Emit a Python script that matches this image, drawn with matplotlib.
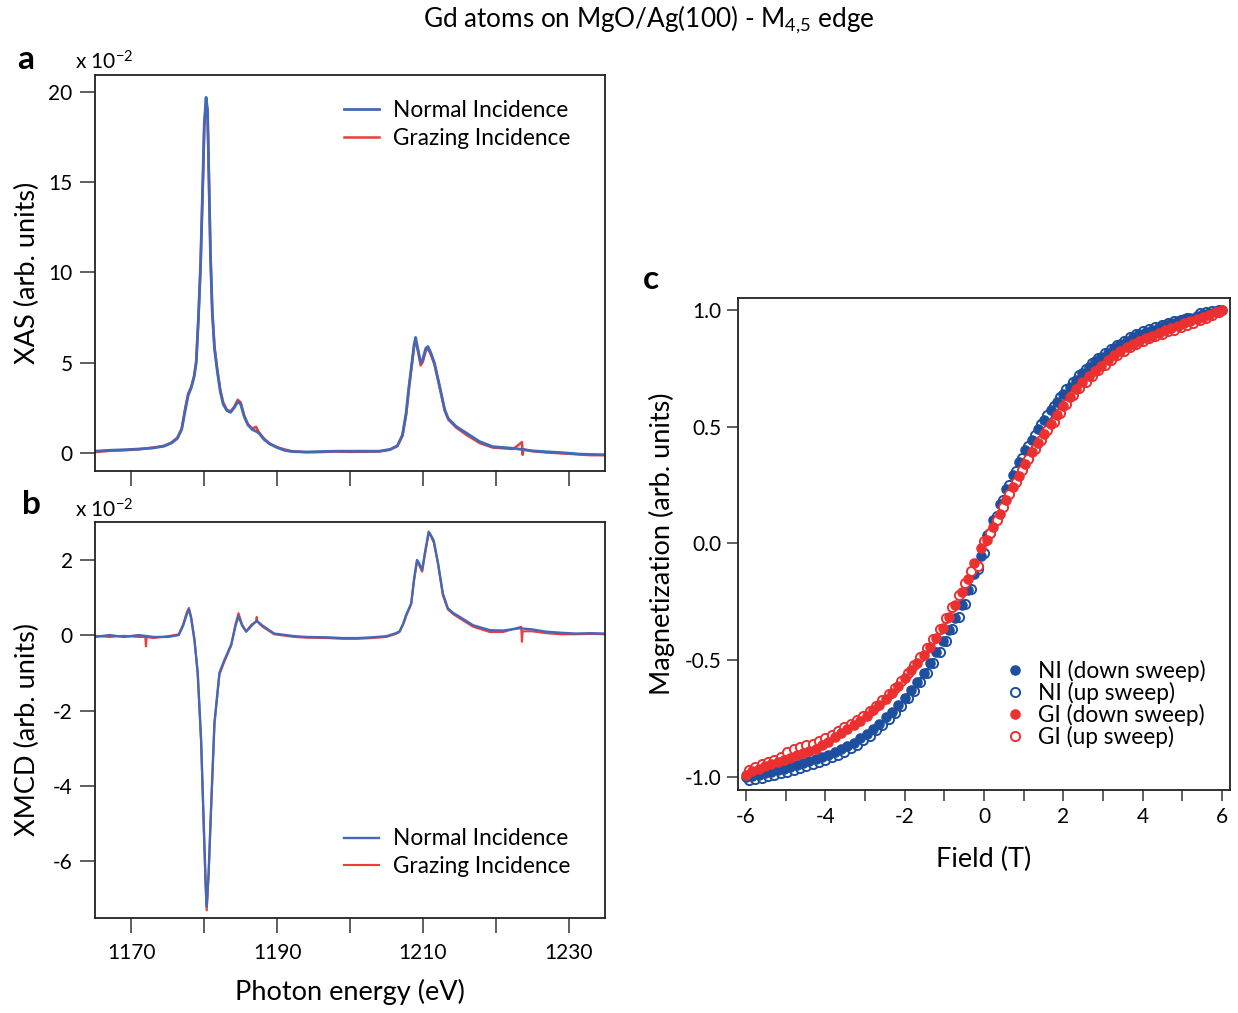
import matplotlib
matplotlib.use("Agg")
import matplotlib.pyplot as plt
from matplotlib.ticker import FixedLocator, FormatStrFormatter

plt.rcParams["font.family"] = ["Lato", "DejaVu Sans"]
plt.rcParams["mathtext.fontset"] = "custom"
plt.rcParams["mathtext.rm"] = "Lato"
plt.rcParams["axes.unicode_minus"] = False

# ---- panel a: XAS (x 10^-2) ----
xas_energy_ni = [1165.0, 1167.0, 1169.0, 1171.0, 1173.0, 1174.5, 1175.5, 1176.3, 1176.9, 1177.4,
                 1177.8, 1178.2, 1178.6, 1178.9, 1179.2, 1179.5, 1179.8, 1180.0, 1180.25, 1180.45,
                 1180.65, 1180.85, 1181.1, 1181.4, 1181.8, 1182.2, 1182.6, 1183.1, 1183.6, 1184.1,
                 1184.6, 1185.0, 1185.5, 1186.0, 1186.6, 1187.1, 1187.5, 1188.2, 1189.0, 1190.0,
                 1191.0, 1192.0, 1194.0, 1196.0, 1198.0, 1200.0, 1202.0, 1204.0, 1205.5, 1206.5,
                 1207.2, 1207.7, 1208.1, 1208.5, 1208.8, 1209.0, 1209.3, 1209.7, 1210.0, 1210.4,
                 1210.7, 1211.1, 1211.6, 1212.3, 1213.0, 1213.5, 1214.6, 1216.0, 1217.8, 1219.6,
                 1222.4, 1225.0, 1226.9, 1229.0, 1231.5, 1233.0, 1235.0]
xas_ni = [0.10, 0.15, 0.18, 0.22, 0.28, 0.38, 0.55, 0.80, 1.30, 2.40,
          3.20, 3.60, 4.20, 5.00, 7.50, 10.5, 15.0, 18.2, 19.7, 19.0,
          15.0, 11.0, 7.8, 5.8, 4.5, 3.4, 2.7, 2.35, 2.25, 2.50,
          2.85, 2.70, 2.00, 1.55, 1.30, 1.20, 1.10, 0.75, 0.50, 0.30,
          0.15, 0.08, 0.05, 0.08, 0.10, 0.10, 0.10, 0.10, 0.20, 0.40,
          1.00, 2.20, 3.70, 5.00, 6.00, 6.40, 5.80, 5.00, 5.20, 5.80,
          5.90, 5.55, 4.97, 3.70, 2.40, 1.90, 1.46, 1.10, 0.63, 0.35,
          0.26, 0.12, 0.07, 0.02, -0.06, -0.08, -0.10]

xas_energy_gi = [1165.0, 1167.0, 1169.0, 1171.0, 1173.0, 1174.5, 1175.5, 1176.3, 1176.9, 1177.4,
                 1177.8, 1178.2, 1178.6, 1178.9, 1179.2, 1179.5, 1179.8, 1180.0, 1180.25, 1180.45,
                 1180.65, 1180.85, 1181.1, 1181.4, 1181.8, 1182.2, 1182.6, 1183.1, 1183.6, 1184.1,
                 1184.6, 1185.0, 1185.5, 1186.0, 1186.6, 1187.1, 1187.5, 1188.2, 1189.0, 1190.0,
                 1191.0, 1192.0, 1194.0, 1196.0, 1198.0, 1200.0, 1202.0, 1204.0, 1205.5, 1206.5,
                 1207.2, 1207.7, 1208.1, 1208.5, 1208.8, 1209.0, 1209.3, 1209.7, 1210.0, 1210.4,
                 1210.7, 1211.1, 1211.6, 1212.3, 1213.0, 1213.5, 1214.6, 1216.0, 1217.8, 1219.6,
                 1222.4, 1223.6, 1223.7, 1223.8, 1225.0, 1226.9, 1229.0, 1231.5, 1233.0, 1235.0]
xas_gi = [0.05, 0.12, 0.15, 0.20, 0.30, 0.40, 0.58, 0.85, 1.35, 2.50,
          3.30, 3.65, 4.25, 5.10, 7.40, 10.4, 14.8, 18.0, 19.6, 18.9,
          15.1, 11.1, 7.9, 5.9, 4.6, 3.5, 2.8, 2.40, 2.30, 2.55,
          2.95, 2.80, 2.05, 1.60, 1.35, 1.45, 1.15, 0.80, 0.52, 0.32,
          0.20, 0.10, 0.05, 0.05, 0.08, 0.06, 0.07, 0.08, 0.18, 0.38,
          0.95, 2.10, 3.60, 4.90, 5.90, 6.25, 5.70, 4.85, 5.05, 5.65,
          5.80, 5.45, 4.90, 3.65, 2.35, 1.85, 1.40, 1.00, 0.55, 0.30,
          0.22, 0.60, -0.10, 0.20, 0.10, 0.03, -0.02, -0.08, -0.12, -0.12]

# ---- panel b: XMCD (x 10^-2) ----
xmcd_energy_ni = [1165.0, 1167.0, 1169.0, 1171.0, 1173.0, 1175.0, 1176.5, 1177.1, 1177.6, 1177.9,
                  1178.2, 1178.65, 1179.1, 1179.57, 1179.93, 1180.2, 1180.34, 1180.6, 1180.94, 1181.4,
                  1182.08, 1182.77, 1183.7, 1184.3, 1184.7, 1185.2, 1185.75, 1186.5, 1187.2, 1188.0,
                  1189.6, 1192.4, 1194.0, 1196.9, 1199.0, 1201.0, 1203.0, 1205.0, 1206.3, 1206.8,
                  1207.3, 1207.7, 1208.4, 1208.8, 1209.2, 1209.5, 1209.9, 1210.3, 1210.8, 1211.1,
                  1211.5, 1212.06, 1212.75, 1213.43, 1214.2, 1215.0, 1216.9, 1219.2, 1221.0, 1223.3,
                  1225.0, 1226.9, 1229.0, 1231.0, 1233.0, 1235.0]
xmcd_ni = [-0.05, 0.00, -0.05, 0.00, -0.05, -0.05, 0.00, 0.25, 0.55, 0.68,
           0.45, -0.13, -1.00, -2.78, -5.00, -6.60, -7.20, -6.30, -4.55, -2.33,
           -1.00, -0.66, -0.25, 0.25, 0.50, 0.25, 0.09, 0.25, 0.38, 0.25,
           0.04, -0.03, -0.05, -0.06, -0.08, -0.08, -0.06, -0.03, 0.05, 0.10,
           0.30, 0.53, 0.84, 1.50, 1.99, 1.90, 1.72, 2.20, 2.74, 2.65,
           2.50, 1.94, 1.10, 0.71, 0.58, 0.49, 0.26, 0.13, 0.12, 0.18,
           0.15, 0.09, 0.06, 0.04, 0.05, 0.04]

xmcd_energy_gi = [1165.0, 1167.0, 1169.0, 1171.0, 1171.9, 1172.0, 1172.1, 1173.0, 1175.0, 1176.5,
                  1177.1, 1177.6, 1177.9, 1178.2, 1178.65, 1179.1, 1179.57, 1179.93, 1180.2, 1180.34,
                  1180.6, 1180.94, 1181.4, 1182.08, 1182.77, 1183.7, 1184.3, 1184.7, 1185.2, 1185.75,
                  1186.5, 1187.1, 1187.2, 1187.3, 1188.0, 1189.6, 1192.4, 1194.0, 1196.9, 1199.0,
                  1201.0, 1203.0, 1205.0, 1206.3, 1206.8, 1207.3, 1207.7, 1208.4, 1208.8, 1209.2,
                  1209.5, 1209.9, 1210.3, 1210.8, 1211.1, 1211.5, 1212.06, 1212.75, 1213.43, 1214.2,
                  1215.0, 1216.9, 1219.2, 1221.0, 1223.5, 1223.6, 1223.7, 1225.0, 1226.9, 1229.0,
                  1231.0, 1233.0, 1235.0]
xmcd_gi = [-0.02, -0.05, -0.02, -0.05, -0.05, -0.30, -0.05, -0.08, -0.03, 0.02,
           0.28, 0.60, 0.72, 0.48, -0.10, -1.00, -2.85, -5.10, -6.75, -7.30,
           -6.35, -4.60, -2.35, -1.05, -0.70, -0.28, 0.30, 0.58, 0.28, 0.10,
           0.28, 0.35, 0.48, 0.35, 0.22, 0.02, -0.05, -0.07, -0.08, -0.10,
           -0.10, -0.08, -0.05, 0.03, 0.08, 0.28, 0.50, 0.82, 1.45, 1.95,
           1.85, 1.68, 2.15, 2.70, 2.62, 2.45, 1.90, 1.05, 0.68, 0.55,
           0.45, 0.22, 0.08, 0.08, 0.22, -0.18, 0.10, 0.10, 0.05, 0.02,
           0.02, 0.03, 0.02]

# ---- panel c: magnetization loops ----
field_down = [-6.00, -5.84, -5.68, -5.52, -5.36, -5.20, -5.04, -4.88, -4.72, -4.56,
              -4.40, -4.24, -4.08, -3.92, -3.76, -3.60, -3.44, -3.28, -3.12, -2.96,
              -2.80, -2.64, -2.48, -2.32, -2.16, -2.00, -1.84, -1.68, -1.52, -1.36,
              -1.20, -1.04, -0.88, -0.72, -0.56, -0.40, -0.24, -0.08,
              0.08, 0.24, 0.40, 0.56, 0.72, 0.88, 1.04, 1.20, 1.36, 1.52,
              1.68, 1.84, 2.00, 2.16, 2.32, 2.48, 2.64, 2.80, 2.96, 3.12,
              3.28, 3.44, 3.60, 3.76, 3.92, 4.08, 4.24, 4.40, 4.56, 4.72,
              4.88, 5.04, 5.20, 5.36, 5.52, 5.68, 5.84, 6.00]
field_up = [-5.92, -5.76, -5.60, -5.44, -5.28, -5.12, -4.96, -4.80, -4.64, -4.48,
            -4.32, -4.16, -4.00, -3.84, -3.68, -3.52, -3.36, -3.20, -3.04, -2.88,
            -2.72, -2.56, -2.40, -2.24, -2.08, -1.92, -1.76, -1.60, -1.44, -1.28,
            -1.12, -0.96, -0.80, -0.64, -0.48, -0.32, -0.16, 0.00,
            0.16, 0.32, 0.48, 0.64, 0.80, 0.96, 1.12, 1.28, 1.44, 1.60,
            1.76, 1.92, 2.08, 2.24, 2.40, 2.56, 2.72, 2.88, 3.04, 3.20,
            3.36, 3.52, 3.68, 3.84, 4.00, 4.16, 4.32, 4.48, 4.64, 4.80,
            4.96, 5.12, 5.28, 5.44, 5.60, 5.76, 5.92]
ni_down = [-1.000, -0.995, -0.990, -0.984, -0.978, -0.971, -0.964, -0.957, -0.949, -0.941,
           -0.933, -0.924, -0.915, -0.905, -0.894, -0.882, -0.869, -0.853, -0.835, -0.815,
           -0.795, -0.772, -0.745, -0.720, -0.690, -0.660, -0.628, -0.592, -0.553, -0.510,
           -0.465, -0.418, -0.370, -0.318, -0.262, -0.200, -0.130, -0.055,
           0.035, 0.100, 0.170, 0.235, 0.295, 0.350, 0.400, 0.445, 0.490, 0.530,
           0.570, 0.605, 0.640, 0.670, 0.700, 0.730, 0.757, 0.780, 0.798, 0.816,
           0.835, 0.853, 0.868, 0.882, 0.895, 0.906, 0.916, 0.926, 0.935, 0.944,
           0.952, 0.960, 0.967, 0.974, 0.981, 0.988, 0.994, 1.000]
ni_up = [-1.015, -1.010, -1.004, -0.998, -0.992, -0.985, -0.978, -0.970, -0.962, -0.955,
         -0.946, -0.937, -0.927, -0.916, -0.904, -0.891, -0.877, -0.861, -0.843, -0.823,
         -0.801, -0.778, -0.751, -0.724, -0.694, -0.663, -0.630, -0.594, -0.555, -0.512,
         -0.466, -0.418, -0.368, -0.316, -0.258, -0.196, -0.110, -0.040,
         0.046, 0.118, 0.185, 0.250, 0.310, 0.366, 0.418, 0.466, 0.510, 0.551,
         0.590, 0.626, 0.660, 0.691, 0.720, 0.748, 0.773, 0.795, 0.814, 0.833,
         0.851, 0.868, 0.883, 0.896, 0.908, 0.918, 0.927, 0.936, 0.944, 0.951,
         0.958, 0.964, 0.953, 0.988, 0.992, 0.995, 0.998]
gi_down = [-0.990, -0.975, -0.965, -0.955, -0.945, -0.935, -0.926, -0.917, -0.908, -0.899,
           -0.890, -0.880, -0.865, -0.850, -0.830, -0.812, -0.795, -0.778, -0.760, -0.740,
           -0.715, -0.690, -0.665, -0.640, -0.610, -0.578, -0.543, -0.510, -0.478, -0.443,
           -0.405, -0.363, -0.315, -0.262, -0.210, -0.153, -0.085, -0.020,
           0.015, 0.070, 0.128, 0.185, 0.240, 0.290, 0.342, 0.390, 0.430, 0.470,
           0.510, 0.548, 0.590, 0.628, 0.660, 0.690, 0.715, 0.738, 0.762, 0.785,
           0.805, 0.823, 0.840, 0.855, 0.868, 0.879, 0.890, 0.901, 0.912, 0.922,
           0.932, 0.942, 0.952, 0.962, 0.971, 0.980, 0.990, 1.000]
gi_up = [-0.970, -0.958, -0.946, -0.936, -0.926, -0.915, -0.895, -0.880, -0.872, -0.865,
         -0.858, -0.848, -0.835, -0.820, -0.804, -0.788, -0.773, -0.758, -0.740, -0.718,
         -0.694, -0.670, -0.645, -0.617, -0.587, -0.555, -0.520, -0.485, -0.449, -0.409,
         -0.366, -0.320, -0.273, -0.222, -0.168, -0.119, -0.098, 0.010,
         0.045, 0.100, 0.155, 0.212, 0.264, 0.313, 0.361, 0.405, 0.445, 0.484,
         0.522, 0.560, 0.599, 0.634, 0.665, 0.693, 0.718, 0.742, 0.765, 0.786,
         0.806, 0.824, 0.840, 0.854, 0.866, 0.878, 0.888, 0.898, 0.908, 0.916,
         0.925, 0.935, 0.945, 0.955, 0.966, 0.978, 0.990]

BLUE_LINE = "#4169b8"
RED_LINE = "#ee3b3b"
BLUE = "#1d4f9e"
RED = "#ec2f2f"
FRAME = "#222222"
LABEL_SIZE = 19.5

fig = plt.figure(figsize=(12.38, 10.13), dpi=100)
ax_a = fig.add_axes([0.0767, 0.535, 0.412, 0.391])
ax_b = fig.add_axes([0.0767, 0.0938, 0.412, 0.391])
ax_c = fig.add_axes([0.5961, 0.2201, 0.3974, 0.4857])


def style_axes(ax, tick_len, pad):
    for sp in ax.spines.values():
        sp.set_linewidth(1.3)
        sp.set_color(FRAME)
    ax.tick_params(which="both", direction="out", length=tick_len, width=1.2,
                   color="#444444", labelsize=15, pad=pad)
    ax.tick_params(axis="y", which="both", right=False)
    ax.tick_params(axis="x", which="both", top=False)


# panel a
ax_a.plot(xas_energy_gi, xas_gi, color=RED_LINE, lw=1.8, label="Grazing Incidence")
ax_a.plot(xas_energy_ni, xas_ni, color=BLUE_LINE, lw=2.0, label="Normal Incidence")
ax_a.set_xlim(1165, 1235)
ax_a.set_ylim(-1.0, 20.94)
ax_a.set_yticks([0, 5, 10, 15, 20])
ax_a.set_xticks([1170, 1180, 1190, 1200, 1210, 1220, 1230])
ax_a.set_xticklabels([])
style_axes(ax_a, 11, 5)
ax_a.set_ylabel("XAS (arb. units)", fontsize=LABEL_SIZE)
ax_a.yaxis.set_label_coords(-0.108, 0.5)
h, l = ax_a.get_legend_handles_labels()
ax_a.legend(h[::-1], l[::-1], loc="upper right", bbox_to_anchor=(0.95, 0.96),
            frameon=False, fontsize=16.3, handlelength=1.55, handletextpad=0.6,
            labelspacing=0.3, borderaxespad=0)

# panel b
ax_b.plot(xmcd_energy_gi, xmcd_gi, color=RED_LINE, lw=1.5, label="Grazing Incidence")
ax_b.plot(xmcd_energy_ni, xmcd_ni, color=BLUE_LINE, lw=1.7, label="Normal Incidence")
ax_b.set_xlim(1165, 1235)
ax_b.set_ylim(-7.5, 3.0)
ax_b.set_yticks([-6, -4, -2, 0, 2])
ax_b.xaxis.set_major_locator(FixedLocator([1170, 1190, 1210, 1230]))
ax_b.xaxis.set_minor_locator(FixedLocator([1180, 1200, 1220]))
style_axes(ax_b, 11, 5)
ax_b.tick_params(axis="x", which="both", pad=7)
ax_b.set_ylabel("XMCD (arb. units)", fontsize=LABEL_SIZE)
ax_b.yaxis.set_label_coords(-0.108, 0.475)
ax_b.set_xlabel("Photon energy (eV)", fontsize=LABEL_SIZE)
ax_b.xaxis.set_label_coords(0.5, -0.155)
h, l = ax_b.get_legend_handles_labels()
ax_b.legend(h[::-1], l[::-1], loc="lower right", bbox_to_anchor=(0.95, 0.08),
            frameon=False, fontsize=16.3, handlelength=1.55, handletextpad=0.6,
            labelspacing=0.3, borderaxespad=0)

# panel c: open (up sweep) markers sit under the filled (down sweep) ones
ms = 6.6
ax_c.plot(field_down, ni_down, "o", color=BLUE, ms=ms, mec=BLUE, zorder=3,
          label="NI (down sweep)")
ax_c.plot(field_up, ni_up, "o", mfc="white", mec=BLUE, mew=1.4, ms=ms, zorder=2,
          label="NI (up sweep)")
ax_c.plot(field_down, gi_down, "o", color=RED, ms=ms, mec=RED, zorder=5,
          label="GI (down sweep)")
ax_c.plot(field_up, gi_up, "o", mfc="white", mec=RED, mew=1.4, ms=ms, zorder=4,
          label="GI (up sweep)")
ax_c.set_xlim(-6.2, 6.2)
ax_c.set_ylim(-1.056, 1.051)
ax_c.set_yticks([-1.0, -0.5, 0.0, 0.5, 1.0])
ax_c.yaxis.set_major_formatter(FormatStrFormatter("%.1f"))
ax_c.xaxis.set_major_locator(FixedLocator([-6, -4, -2, 0, 2, 4, 6]))
ax_c.xaxis.set_minor_locator(FixedLocator([-5, -3, -1, 1, 3, 5]))
style_axes(ax_c, 8, 4)
ax_c.set_ylabel("Magnetization (arb. units)", fontsize=LABEL_SIZE)
ax_c.yaxis.set_label_coords(-0.128, 0.5)
ax_c.set_xlabel("Field (T)", fontsize=LABEL_SIZE)
ax_c.xaxis.set_label_coords(0.5, -0.115)
ax_c.legend(loc="upper right", bbox_to_anchor=(0.968, 0.283), frameon=False, fontsize=16.3,
            handlelength=0.8, handletextpad=0.6, labelspacing=0.0, borderaxespad=0)

# texts
fig.text(0.524, 0.980, r"Gd atoms on MgO/Ag(100) - M$\mathregular{_{4{,}5}}$ edge",
         ha="center", va="center", fontsize=18.8)
fig.text(0.0606, 0.939, r"x 10$\mathregular{^{-2}}$", ha="left", va="center", fontsize=15)
fig.text(0.0606, 0.4965, r"x 10$\mathregular{^{-2}}$", ha="left", va="center", fontsize=15)
fig.text(0.021, 0.941, "a", ha="center", va="center", fontsize=24, fontweight="bold")
fig.text(0.025, 0.5015, "b", ha="center", va="center", fontsize=24, fontweight="bold")
fig.text(0.526, 0.7236, "c", ha="center", va="center", fontsize=24, fontweight="bold")

fig.savefig("out.png", dpi=100)
